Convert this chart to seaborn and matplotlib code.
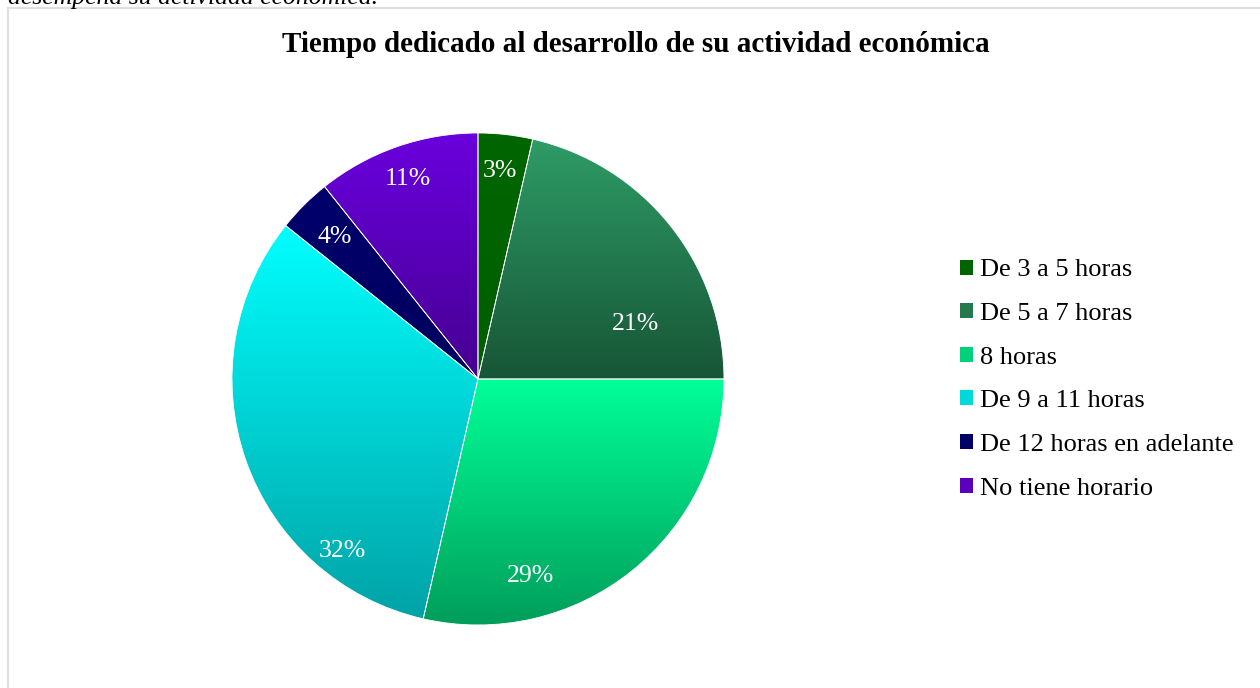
import numpy as np
import matplotlib
matplotlib.use("Agg")
import matplotlib.pyplot as plt
from matplotlib.colors import to_rgb
from matplotlib.patches import Rectangle, Patch
import seaborn as sns

# -------------------------------
# Data
# -------------------------------
categories = ["De 3 a 5 horas", "De 5 a 7 horas", "8 horas",
              "De 9 a 11 horas", "De 12 horas en adelante", "No tiene horario"]
counts = [1, 6, 8, 9, 1, 3]
pct_labels = ["3%", "21%", "29%", "32%", "4%", "11%"]

# gradient colours per slice (top -> bottom)
top_colors = ["#006600", "#2E9C66", "#00FF99", "#00FFFF", "#00006C", "#6A00DE"]
bottom_colors = ["#005E00", "#175536", "#009E5A", "#00A3A6", "#00005E", "#460090"]
legend_colors = ["#006400", "#24794D", "#00D27C", "#00D8DA", "#000066", "#5A00BA"]

# where the % labels sit inside each wedge (fraction of wedge angle, radius)
label_frac = [0.47, 0.75, 0.73, 0.22, 0.48, 0.50]
label_rad = [0.85, 0.68, 0.83, 0.89, 0.82, 0.86]

sns.set_theme(style="white")
plt.rcParams["font.family"] = ["Liberation Serif", "DejaVu Serif"]
plt.rcParams["text.color"] = "black"

fig = plt.figure(figsize=(12.6, 6.88), dpi=100)
fig.patch.set_facecolor("white")

# chart border
fig.patches.append(Rectangle((8 / 1260, -0.05), 1.2, 1 - 8 / 688 + 0.05,
                             transform=fig.transFigure, fill=False,
                             edgecolor="#DCE1E6", linewidth=1.6))

# caption cut off at the top (as in the source)
fig.text(8 / 1260, 1 - 4 / 688, "desempeña su actividad económica.",
         style="italic", fontsize=18.5, va="baseline", ha="left", color="black")

fig.text(0.505, 1 - 45 / 688, "Tiempo dedicado al desarrollo de su actividad económica",
         fontsize=21, fontweight="bold", ha="center", va="center", color="black")

ax = fig.add_axes([0.1841, 0.0916, 0.3905, 0.7151])
wedges, _ = ax.pie(counts, startangle=90, counterclock=False, radius=1,
                   wedgeprops=dict(edgecolor="white", linewidth=0.6))

for i, w in enumerate(wedges):
    ext = w.get_path().get_extents()
    c_top = np.array(to_rgb(top_colors[i]))
    c_bot = np.array(to_rgb(bottom_colors[i]))
    t = np.linspace(0, 1, 256)[:, None, None]
    grad = c_top[None, None, :] * (1 - t) + c_bot[None, None, :] * t
    im = ax.imshow(grad, extent=[ext.x0, ext.x1, ext.y0, ext.y1],
                   origin="upper", aspect="auto", zorder=2, interpolation="bilinear")
    im.set_clip_path(w)
    w.set_facecolor("none")
    w.set_zorder(3)

    th1, th2 = w.theta1, w.theta2
    # counterclock=False: wedge goes from theta2 down to theta1
    ang = np.deg2rad(th2 - label_frac[i] * (th2 - th1))
    ax.text(label_rad[i] * np.cos(ang), label_rad[i] * np.sin(ang), pct_labels[i],
            color="white", fontsize=18.5, ha="center", va="center", zorder=4)

ax.set_xlim(-1, 1)
ax.set_ylim(-1, 1)
ax.set_aspect("equal")
ax.axis("off")

handles = [Patch(facecolor=c, edgecolor="none") for c in legend_colors]
leg = fig.legend(handles, categories, loc="center left",
                 bbox_to_anchor=(960 / 1260, 1 - 379.5 / 688), frameon=False,
                 fontsize=19, handlelength=0.5, handleheight=0.5, handletextpad=0.27,
                 labelspacing=0.82, borderpad=0, borderaxespad=0)
for txt in leg.get_texts():
    txt.set_color("black")

fig.savefig("out.png", dpi=100)
